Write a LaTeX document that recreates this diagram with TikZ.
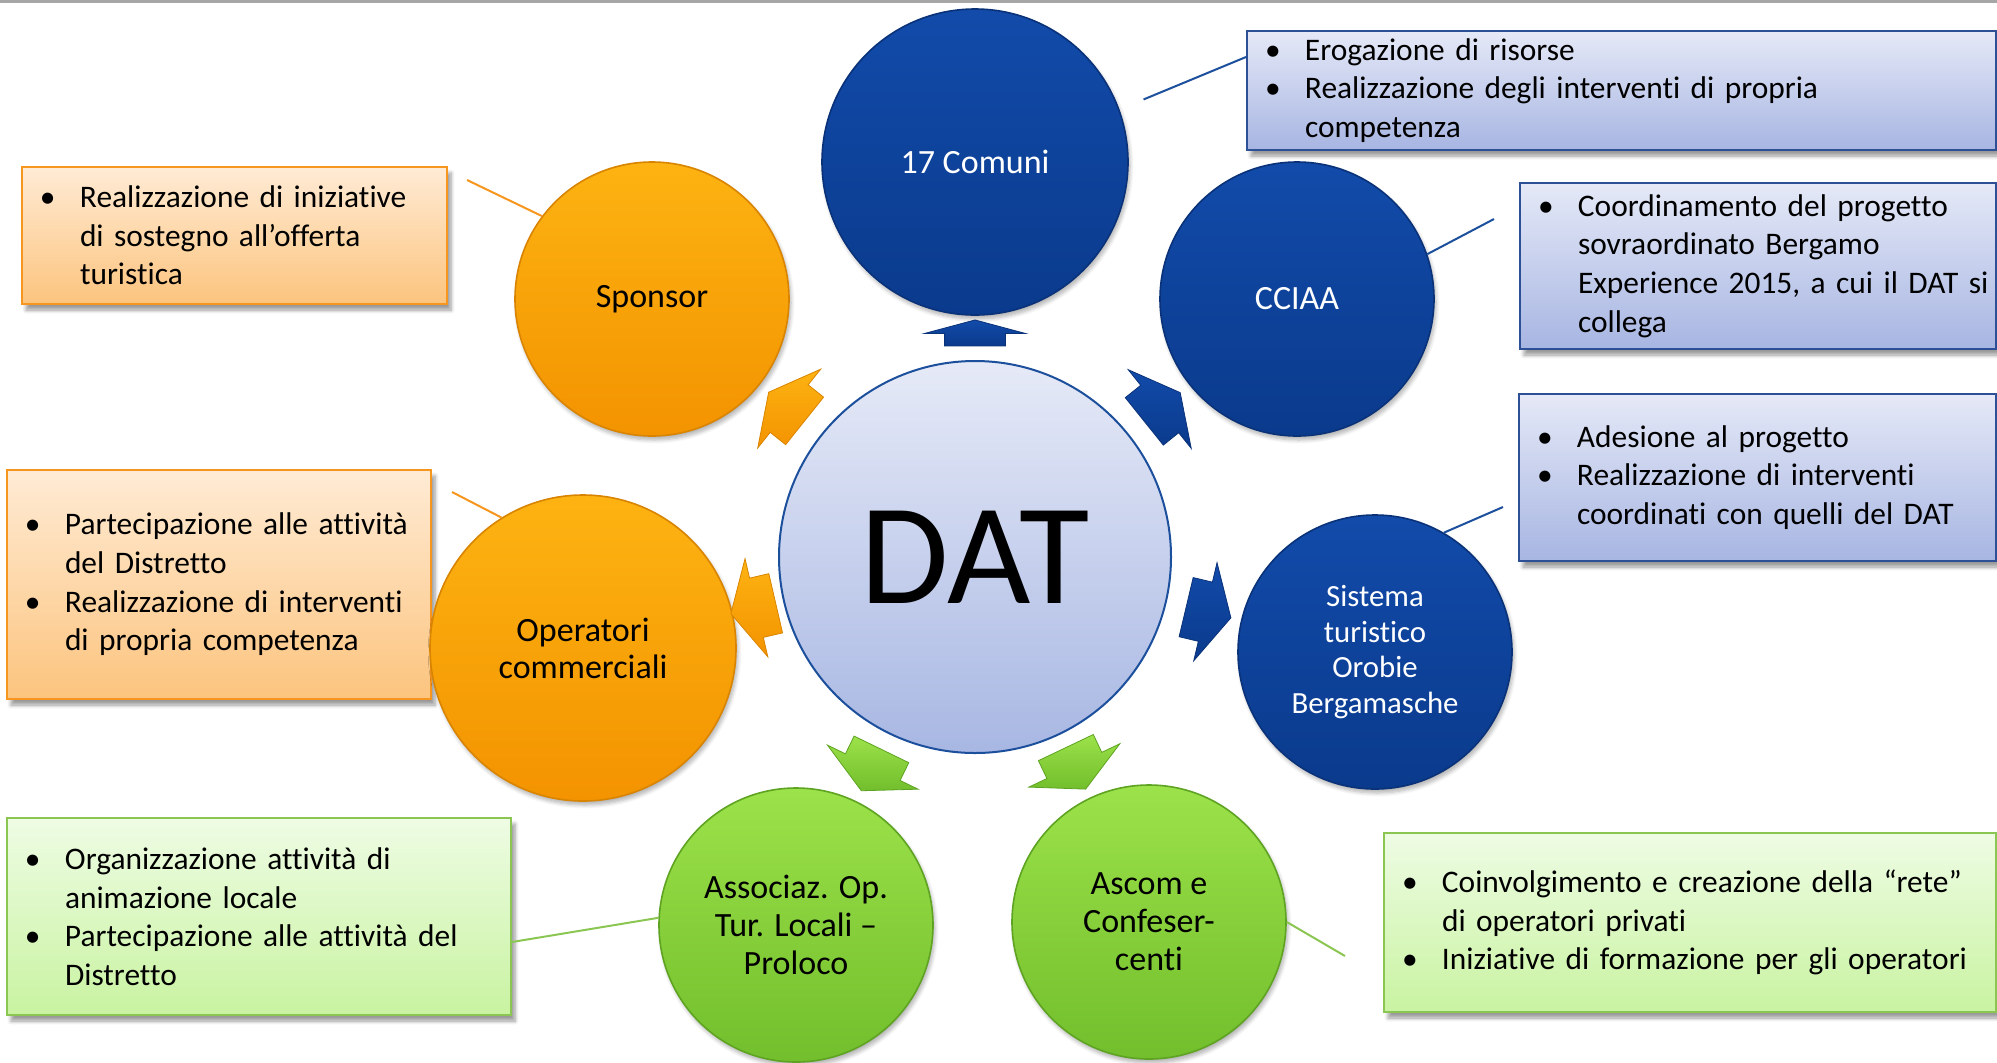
\documentclass[tikz,border=0pt]{standalone}
\usepackage{fontspec}
\setmainfont{Carlito}[Ligatures=NoCommon]
\usetikzlibrary{shapes.arrows,shadows.blur}

% colours of the three groups
\definecolor{bluetop}{HTML}{124BAA}
\definecolor{bluebot}{HTML}{0A3A8C}
\definecolor{blueedge}{HTML}{0A3278}
\definecolor{orangetop}{HTML}{FDB312}
\definecolor{orangebot}{HTML}{F39300}
\definecolor{orangeedge}{HTML}{D98400}
\definecolor{greentop}{HTML}{9CE24A}
\definecolor{greenbot}{HTML}{72BE2C}
\definecolor{greenedge}{HTML}{5EA322}
\definecolor{dattop}{HTML}{E6EAF7}
\definecolor{datbot}{HTML}{A8B7E3}
\definecolor{datedge}{HTML}{1C4F9C}
\definecolor{bboxtop}{HTML}{E5E9F7}
\definecolor{bboxbot}{HTML}{A7B5E2}
\definecolor{bboxedge}{HTML}{2C4F95}
\definecolor{oboxtop}{HTML}{FFEBD5}
\definecolor{oboxbot}{HTML}{FCC47E}
\definecolor{oboxedge}{HTML}{F7961E}
\definecolor{gboxtop}{HTML}{EEFCE4}
\definecolor{gboxbot}{HTML}{C9F3A1}
\definecolor{gboxedge}{HTML}{8CC652}

% one bullet of a list, with hanging indent
\newcommand\bitem[1]{\noindent\hangindent=29pt\hangafter=1\makebox[29pt][l]{\hspace{9pt}\textbullet}#1\par}

\begin{document}
\begin{tikzpicture}[x=0.5pt, y=-0.5pt,
    bubble/.style={circle, inner sep=0pt, align=center, line width=0.8pt,
      font=\fontsize{17}{19}\selectfont,
      blur shadow={shadow xshift=1pt, shadow yshift=-2pt, shadow opacity=30, shadow blur steps=6}},
    bluebubble/.style={bubble, top color=bluetop, bottom color=bluebot, draw=blueedge, text=white},
    orangebubble/.style={bubble, top color=orangetop, bottom color=orangebot, draw=orangeedge},
    greenbubble/.style={bubble, top color=greentop, bottom color=greenbot, draw=greenedge},
    infobox/.style={rectangle, anchor=north west, inner sep=0pt, align=left, line width=1pt,
      font=\fontsize{15.7}{19.3}\selectfont,
      blur shadow={shadow xshift=2pt, shadow yshift=-3pt, shadow opacity=40, shadow blur steps=6}},
    bluebox/.style={infobox, draw=bboxedge, top color=bboxtop, bottom color=bboxbot},
    orangebox/.style={infobox, draw=oboxedge, top color=oboxtop, bottom color=oboxbot},
    greenbox/.style={infobox, draw=gboxedge, top color=gboxtop, bottom color=gboxbot},
    blockarrow/.style={single arrow, sloped, allow upside down, inner xsep=0pt, inner ysep=15pt,
      minimum height=23pt, single arrow head extend=10pt,
      single arrow tip angle=125, line width=0.4pt},
    bluearrow/.style={blockarrow, top color=bluetop, bottom color=bluebot, draw=blueedge},
    orangearrow/.style={blockarrow, top color=orangetop, bottom color=orangebot, draw=orangeedge},
    greenarrow/.style={blockarrow, top color=greentop, bottom color=greenbot, draw=greenedge},
    bline/.style={draw=datedge, line width=1pt},
    oline/.style={draw=oboxedge, line width=1pt},
    gline/.style={draw=gboxedge, line width=1pt}]
  \useasboundingbox (0, 0) rectangle (1997, 1062);
  \fill [black!35] (0, 0) rectangle (1997, 3);

  % text boxes
  \node [bluebox, text width=374.5pt, minimum height=59.5pt] (infoComuni) at (1246, 30)
    {\bitem{Erogazione di risorse}\bitem{Realizzazione degli interventi di propria\newline competenza}};
  \node [bluebox, text width=238pt, minimum height=83pt] (infoCciaa) at (1519, 182)
    {\bitem{Coordinamento del progetto\newline sovraordinato Bergamo\newline Experience 2015, a cui il DAT si\newline collega}};
  \node [bluebox, text width=238.5pt, minimum height=83.5pt] (infoSistema) at (1518, 393)
    {\bitem{Adesione al progetto}\bitem{Realizzazione di interventi\newline coordinati con quelli del DAT}};
  \node [greenbox, text width=306pt, minimum height=89.5pt] (infoAscom) at (1383, 832)
    {\bitem{Coinvolgimento e creazione della “rete”\newline di operatori privati}\bitem{Iniziative di formazione per gli operatori}};
  \node [greenbox, text width=252pt, minimum height=98.5pt] (infoProloco) at (6, 817)
    {\bitem{Organizzazione attività di\newline animazione locale}\bitem{Partecipazione alle attività del\newline Distretto}};
  \node [orangebox, text width=212pt, minimum height=114.5pt] (infoOperatori) at (6, 469)
    {\bitem{Partecipazione alle attività\newline del Distretto}\bitem{Realizzazione di interventi\newline di propria competenza}};
  \node [orangebox, text width=212.5pt, minimum height=68.5pt] (infoSponsor) at (21, 166)
    {\bitem{Realizzazione di iniziative\newline di sostegno all’offerta\newline turistica}};

  % partners
  \node [bluebubble, minimum size=153pt] (comuni) at (975, 162) {17 Comuni};
  \node [bluebubble, minimum size=137pt] (cciaa) at (1297, 299) {CCIAA};
  \node [bluebubble, minimum size=137pt, font=\fontsize{15.4}{17.7}\selectfont] (sistema) at (1375, 652)
    {Sistema\\turistico\\Orobie\\Bergamasche};
  \node [greenbubble, minimum size=137pt] (ascom) at (1149, 922) {Ascom e\\Confeser-\\centi};
  \node [greenbubble, minimum size=137pt] (proloco) at (796, 925) {Associaz. Op.\\Tur. Locali --\\Proloco};
  \node [orangebubble, minimum size=153pt, font=\fontsize{17}{18.5}\selectfont] (operatori) at (583, 648)
    {Operatori\\commerciali};
  \node [orangebubble, minimum size=137pt] (sponsor) at (652, 299) {Sponsor};

  % centre
  \node [circle, minimum size=196pt, inner sep=0pt, top color=dattop, bottom color=datbot,
    draw=datedge, line width=1pt, font=\fontsize{72}{74}\selectfont] (dat) at (975, 557) {DAT};

  % leader lines to the boxes
  \coordinate (c1) at (1246, 57);
  \coordinate (c2) at (1494, 219);
  \coordinate (c3) at (1503, 507);
  \coordinate (c4) at (1345, 956);
  \coordinate (c5) at (512, 942);
  \coordinate (c6) at (452, 492);
  \coordinate (c7) at (467, 180);
  \draw [bline, shorten <=13pt] (comuni.20) -- (c1);
  \draw [bline] (cciaa.19) -- (c2);
  \draw [bline] (sistema.60) -- (c3);
  \draw [gline] (ascom.0) -- (c4);
  \draw [gline] (proloco.177) -- (c5);
  \draw [oline] (operatori.122) -- (c6);
  \draw [oline] (sponsor.143) -- (c7);

  % arrows from the centre
  \path (dat) -- node [bluearrow, pos=0.52, minimum height=13pt, single arrow tip angle=150] (aComuni) {} (comuni);
  \path (dat) -- node [bluearrow, pos=0.45] (aCciaa) {} (cciaa);
  \path (dat) -- node [bluearrow, pos=0.46] (aSistema) {} (sistema);
  \path (dat) -- node [greenarrow, pos=0.42] (aAscom) {} (ascom);
  \path (dat) -- node [greenarrow, pos=0.43] (aProloco) {} (proloco);
  \path (dat) -- node [orangearrow, pos=0.44] (aOperatori) {} (operatori);
  \path (dat) -- node [orangearrow, pos=0.46] (aSponsor) {} (sponsor);
\end{tikzpicture}
\end{document}
